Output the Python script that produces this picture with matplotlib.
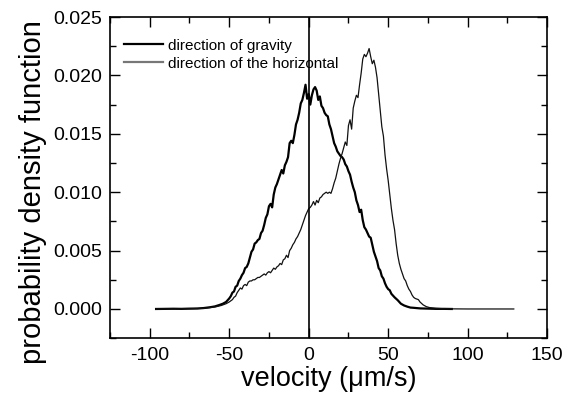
import numpy as np
import matplotlib
matplotlib.use('Agg')
import matplotlib.pyplot as plt
from matplotlib.lines import Line2D
from matplotlib.ticker import MultipleLocator

plt.rcParams['font.family'] = ['Liberation Sans', 'DejaVu Sans']
plt.rcParams['axes.unicode_minus'] = False

# velocity (um/s) and pdf values (x1000)
grav_v = [-96, -90, -85, -80, -75, -70, -66, -62, -59, -56, -54, -52, -50, -49, -48, -47, -46, -45,
          -44, -43, -42, -41, -40, -39, -38, -37, -36, -35, -34, -33, -32, -31, -30, -29, -28, -27,
          -26, -25, -24, -23, -22, -21, -20, -19, -18, -17, -16, -15, -14, -13, -12, -11, -10, -9,
          -8, -7, -6, -5, -4, -3, -2, -1, 0, 1, 2, 3, 4, 5, 6, 7, 8, 9, 10, 11, 12, 13, 14, 15, 16,
          17, 18, 19, 20, 21, 22, 23, 24, 25, 26, 27, 28, 29, 30, 31, 32, 33, 34, 35, 36, 37, 38, 39,
          40, 41, 42, 43, 44, 45, 46, 47, 48, 49, 50, 51, 52, 54, 56, 58, 60, 62, 64, 66, 70, 75, 80,
          85, 90]
grav_p = [0, 0.01, 0.02, 0.01, 0.03, 0.04, 0.08, 0.15, 0.22, 0.35, 0.45, 0.6, 0.9, 1.1, 1.4, 1.5,
          1.9, 2.0, 2.4, 2.6, 2.9, 3.1, 3.5, 3.6, 3.9, 4.4, 4.9, 5.1, 5.6, 5.7, 5.9, 6.0, 6.5, 6.7,
          7.2, 7.8, 8.1, 8.8, 9.0, 8.7, 9.8, 10.4, 10.7, 11.1, 11.5, 11.9, 11.6, 12.3, 12.6, 13.0,
          14.2, 14.4, 14.2, 14.9, 15.8, 16.2, 16.8, 17.6, 17.9, 18.5, 19.2, 18.0, 18.4, 17.5, 18.3,
          18.8, 19.0, 18.7, 17.9, 18.2, 17.4, 17.2, 16.8, 16.6, 16.5, 15.8, 15.4, 14.8, 14.2, 13.9,
          13.5, 13.3, 13.1, 13.0, 12.8, 12.4, 12.2, 11.8, 11.5, 10.9, 10.4, 10.0, 9.3, 8.9, 8.3, 8.5,
          7.6, 7.0, 6.8, 6.5, 6.2, 6.1, 5.5, 4.9, 4.5, 4.1, 3.5, 3.3, 2.8, 2.6, 2.2, 1.9, 1.7, 1.6,
          1.3, 1.0, 0.75, 0.45, 0.3, 0.2, 0.12, 0.1, 0.05, 0.03, 0.01, 0.01, 0]

hor_v = [-96, -90, -85, -80, -75, -70, -66, -62, -58, -55, -52, -50, -48, -47, -46, -45, -44, -43,
         -42, -41, -40, -39, -38, -37, -36, -35, -34, -33, -32, -31, -30, -29, -28, -27, -26, -25,
         -24, -23, -22, -21, -20, -19, -18, -17, -16, -15, -14, -13, -12, -11, -10, -9, -8, -7, -6,
         -5, -4, -3, -2, -1, 0, 1, 2, 3, 4, 5, 6, 7, 8, 9, 10, 11, 12, 13, 14, 15, 16, 17, 18, 19,
         20, 21, 22, 23, 24, 25, 26, 27, 28, 29, 30, 31, 32, 33, 34, 35, 36, 37, 38, 39, 40, 41, 42,
         43, 44, 45, 46, 47, 48, 49, 50, 51, 52, 53, 54, 55, 56, 57, 58, 59, 60, 61, 62, 63, 64, 65,
         66, 67, 68, 69, 70, 72, 74, 76, 80, 85, 90, 100, 110, 120, 129]
hor_p = [0, 0.01, 0, 0.02, 0.02, 0.04, 0.06, 0.12, 0.2, 0.3, 0.45, 0.6, 0.8, 1.0, 1.1, 1.4, 1.6,
         1.8, 1.7, 2.0, 2.1, 2.0, 2.3, 2.4, 2.4, 2.5, 2.5, 2.6, 2.7, 2.7, 2.8, 2.9, 3.0, 2.9, 3.1,
         3.2, 3.1, 3.3, 3.5, 3.4, 3.6, 3.7, 3.9, 3.8, 4.2, 4.3, 4.6, 4.4, 5.0, 5.2, 5.5, 5.7, 6.0,
         6.2, 6.5, 6.8, 7.2, 7.6, 8.0, 8.3, 8.6, 8.7, 8.9, 9.2, 8.9, 9.3, 9.1, 9.5, 9.6, 9.8, 9.9,
         10.0, 9.9, 10.0, 9.9, 10.3, 10.8, 11.2, 11.8, 12.4, 12.9, 13.3, 13.8, 14.3, 14.0, 15.7,
         16.2, 15.4, 17.2, 17.8, 18.3, 18.1, 19.2, 20.2, 21.4, 21.8, 21.6, 21.9, 22.3, 21.6, 21.0,
         21.3, 20.7, 19.8, 18.4, 17.0, 15.6, 14.8, 13.2, 12.0, 11.0, 9.8, 8.6, 7.6, 6.8, 5.6, 4.6,
         3.9, 3.4, 3.0, 2.6, 2.4, 2.0, 1.7, 1.5, 1.2, 1.0, 0.9, 0.85, 0.8, 0.6, 0.35, 0.2, 0.12,
         0.06, 0.02, 0.01, 0, 0, 0, 0]

labels = ['direction of gravity', 'direction of the horizontal']

fig = plt.figure(figsize=(5.67, 4.05), dpi=100)
ax = fig.add_axes([0.194, 0.165, 0.771, 0.793])

ax.plot(grav_v, np.array(grav_p) / 1000, color='black', lw=1.6)
ax.plot(hor_v, np.array(hor_p) / 1000, color='#111111', lw=0.9)
ax.axvline(0, color='black', lw=1.2)

ax.set_xlim(-125, 150)
ax.set_ylim(-0.0025, 0.025)
ax.set_xticks([-100, -50, 0, 50, 100, 150])
ax.set_yticks([0, 0.005, 0.01, 0.015, 0.02, 0.025])
ax.set_yticklabels(['0.000', '0.005', '0.010', '0.015', '0.020', '0.025'])
ax.xaxis.set_minor_locator(MultipleLocator(25))
ax.yaxis.set_minor_locator(MultipleLocator(0.0025))
ax.tick_params(which='both', direction='in', top=True, right=True, width=1.0)
ax.tick_params(which='major', length=7, labelsize=14, pad=6)
ax.tick_params(which='minor', length=4)
for s in ax.spines.values():
    s.set_linewidth(1.2)

ax.set_xlabel('velocity (μm/s)', fontsize=19.5, labelpad=2)
ax.set_ylabel('probability density function', fontsize=21)
ax.yaxis.set_label_coords(-0.145, 0.455)

handles = [Line2D([], [], color='black', lw=1.6), Line2D([], [], color='#777777', lw=1.6)]
ax.legend(handles, labels, loc='upper left', frameon=False, fontsize=11,
          handlelength=2.6, handletextpad=0.3, labelspacing=0.25,
          bbox_to_anchor=(0.0, 0.975))

fig.savefig('out.png', dpi=100)
